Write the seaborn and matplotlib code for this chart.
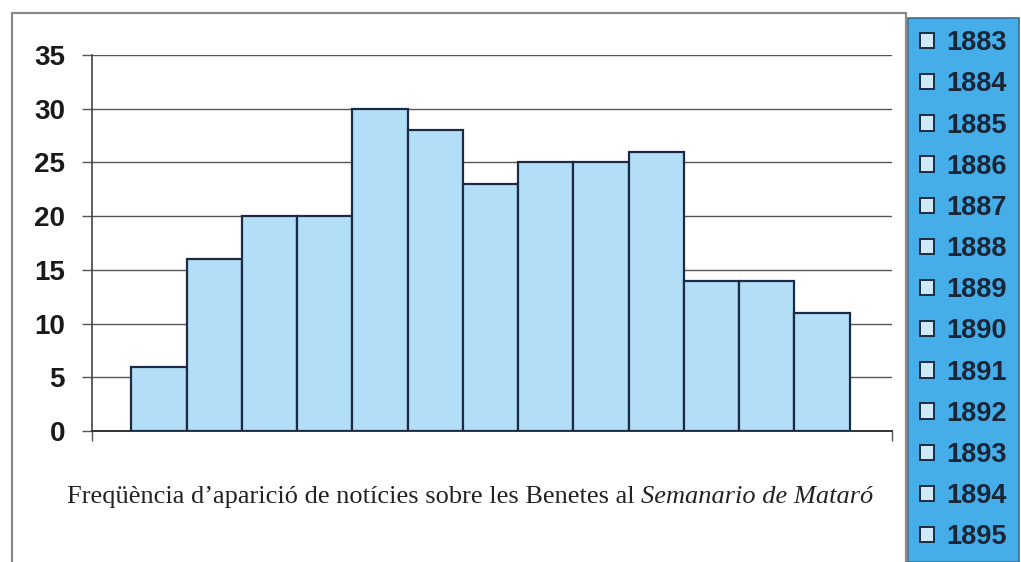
import numpy as np
import seaborn as sns
import matplotlib.pyplot as plt
from matplotlib.patches import Patch, Rectangle

years = ["1883", "1884", "1885", "1886", "1887", "1888", "1889",
         "1890", "1891", "1892", "1893", "1894", "1895"]
counts = [6, 16, 20, 20, 30, 28, 23, 25, 25, 26, 14, 14, 11]
yticks = [0, 5, 10, 15, 20, 25, 30, 35]

bar_fill = "#b3def8"
bar_edge = "#1c2b45"
legend_bg = "#45aee8"

sns.set_style("white")
plt.rcParams["font.family"] = ["Liberation Sans", "DejaVu Sans"]

fig = plt.figure(figsize=(10.21, 5.62), dpi=100)
W, H = 1021, 562

# outer frame of the figure (bottom edge is cut off)
fig.patches.append(Rectangle((12 / W, -0.1), (906 - 12) / W, 1.1 - 13 / H,
                             transform=fig.transFigure, fill=False,
                             edgecolor="#8a8a8a", linewidth=1.6, zorder=0))

ax = fig.add_axes([91.5 / W, 1 - 431 / H, (891.5 - 91.5) / W, (431 - 55) / H])
ax.set_facecolor("none")

sns.barplot(x=years, y=counts, color=bar_fill, edgecolor=bar_edge,
            linewidth=1.6, width=1.0, saturation=1, ax=ax, zorder=3)

ax.set_ylim(0, 35)
ax.set_xlim(-0.5 - 0.72, 12.5 + 0.76)
ax.set_yticks(yticks)
ax.set_yticklabels([str(t) for t in yticks], fontsize=20, fontweight="bold",
                   color="#1a1a1a")
ax.yaxis.grid(True, color="#555555", linewidth=1.0)
ax.set_axisbelow(True)
ax.tick_params(axis="y", length=7, width=1.0, color="#555555", pad=12, left=True)

# only end ticks on the category axis
ax.set_xticks(list(ax.get_xlim()))
ax.set_xticklabels(["", ""])
ax.tick_params(axis="x", length=7, width=1.0, color="#555555", bottom=True)

for side in ["top", "right"]:
    ax.spines[side].set_visible(False)
ax.spines["left"].set_color("#444444")
ax.spines["left"].set_linewidth(1.2)
ax.spines["bottom"].set_color("#333333")
ax.spines["bottom"].set_linewidth(1.4)
ax.set_xlabel("")
ax.set_ylabel("")

# legend box on the right
handles = [Patch(facecolor="#cfe9f7", edgecolor=bar_edge, linewidth=1.4, label=y)
           for y in years]
leg = fig.legend(handles=handles, loc="upper left",
                 bbox_to_anchor=(908 / W, 1 - 18 / H),
                 prop={"family": "Liberation Sans", "weight": "bold", "size": 19.5},
                 handlelength=0.5, handleheight=0.5, handletextpad=0.45,
                 labelspacing=0.56, borderpad=0.45, borderaxespad=0,
                 frameon=True, fancybox=False, framealpha=1)
leg.get_frame().set_facecolor(legend_bg)
leg.get_frame().set_edgecolor("#3a6f95")
leg.get_frame().set_linewidth(1.2)
for t in leg.get_texts():
    t.set_color("#1a2538")

# caption
cap = fig.text(67 / W, 1 - 503 / H,
               "Freqüència d\u2019aparició de notícies sobre les Benetes al ",
               family="Liberation Serif", fontsize=19, color="#222222",
               ha="left", va="baseline")
fig.canvas.draw()
ax.annotate("Semanario de Mataró", xy=(1, 0), xycoords=cap,
            family="Liberation Serif", style="italic", fontsize=19,
            color="#222222", ha="left", va="bottom")

fig.savefig("out.png", dpi=100)
